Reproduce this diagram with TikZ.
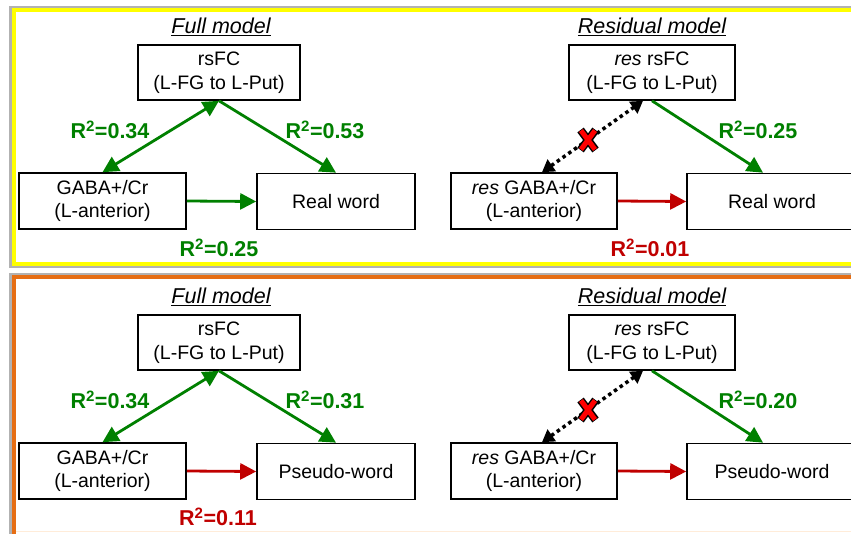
\documentclass[tikz,border=0pt]{standalone}
\usepackage{fontspec}
\setmainfont{Liberation Sans}
\usetikzlibrary{arrows.meta}
\definecolor{mgreen}{RGB}{0,128,0}
\definecolor{mred}{RGB}{192,0,0}
\definecolor{myellow}{RGB}{255,255,0}
\definecolor{morange}{RGB}{230,110,20}
\tikzset{
  box/.style={draw=black, line width=1.6pt, fill=white, align=center, inner sep=2pt,
    font=\fontsize{19.5}{23.5}\selectfont},
  ttl/.style={font=\fontsize{21.5}{24}\selectfont\itshape},
  rlab/.style={font=\fontsize{21.5}{24}\selectfont\bfseries, inner sep=0pt},
  gtip/.style={},
  garr/.style={draw=mgreen, line width=2.8pt, -{Triangle[length=16pt,width=16pt]}},
  gdarr/.style={draw=mgreen, line width=2.8pt, {Triangle[length=16pt,width=16pt]}-{Triangle[length=16pt,width=16pt]}},
  rarr/.style={draw=mred, line width=2.8pt, -{Triangle[length=16pt,width=16pt]}},
  darr/.style={draw=black, line width=3.5pt, dash pattern=on 3.5pt off 3.5pt,
    {Triangle[length=12pt,width=14pt]}-{Triangle[length=12pt,width=14pt]}},
}
\begin{document}
\begin{tikzpicture}[x=1pt,y=-1pt]
\useasboundingbox (0,0) rectangle (851,533);
% panel frames
\draw[gray!60, line width=3pt] (10,7) rectangle (880,266);
\draw[myellow, line width=4pt] (14,10) rectangle (880,264);
\draw[gray!60, line width=3pt] (10,274) rectangle (880,560);
\draw[morange, line width=4pt] (14,277) rectangle (880,560);
\draw[orange!15, line width=1pt] (16,531) -- (851,531);

\foreach \dy/\tw/\sfx in {0/Real word/a, 270/Pseudo-word/b} {
  \begin{scope}[yshift=-\dy pt]
  \node[ttl] (tf\sfx) at (221,27) {\underline{Full model}};
  \node[ttl] (tr\sfx) at (652,27) {\underline{Residual model}};
  % full model
  \node[box, minimum width=162pt, minimum height=55pt] (rs\sfx) at (219,72.5) {rsFC\\(L-FG to L-Put)};
  \node[box, minimum width=167pt, minimum height=56pt] (ga\sfx) at (102.5,201) {GABA+/Cr\\(L-anterior)};
  \node[box, minimum width=158pt, minimum height=56pt] (rw\sfx) at (336,201.5) {\tw};
  % residual model
  \node[box, minimum width=166pt, minimum height=55pt] (rrs\sfx) at (652,72.5) {\textit{res} rsFC\\(L-FG to L-Put)};
  \node[box, minimum width=166pt, minimum height=56pt] (rga\sfx) at (534,201) {\textit{res} GABA+/Cr\\(L-anterior)};
  \node[box, minimum width=170pt, minimum height=56pt] (rrw\sfx) at (772,201.5) {\tw};
  \end{scope}
}

% top connectors
\draw[gdarr] (gaa.north) -- (rsa.south);
\draw[garr] (rsa.south) -- (rwa.north);
\draw[garr] (gaa.east) -- (rwa.west);
\draw[darr] ([xshift=8pt]rgaa.north) -- ([xshift=-9pt]rrsa.south);
\draw[garr] (rrsa.south) -- ([xshift=-9pt]rrwa.north);
\draw[rarr] (rgaa.east) -- (rrwa.west);
% bottom connectors
\draw[gdarr] (gab.north) -- (rsb.south);
\draw[garr] (rsb.south) -- (rwb.north);
\draw[rarr] (gab.east) -- (rwb.west);
\draw[darr] ([xshift=8pt]rgab.north) -- ([xshift=-9pt]rrsb.south);
\draw[garr] (rrsb.south) -- ([xshift=-9pt]rrwb.north);
\draw[rarr] (rgab.east) -- (rrwb.west);

% red X marks
\foreach \yy/\n in {140/xa, 410/xb} {
  \coordinate (\n) at (588,\yy);
  \draw[black, line width=8pt] ([shift={(-7.5,-10)}]\n) -- ([shift={(7.5,10)}]\n);
  \draw[black, line width=8pt] ([shift={(7.5,-10)}]\n) -- ([shift={(-7.5,10)}]\n);
  \draw[red, line width=5pt] ([shift={(-7,-9.5)}]\n) -- ([shift={(7,9.5)}]\n);
  \draw[red, line width=5pt] ([shift={(7,-9.5)}]\n) -- ([shift={(-7,9.5)}]\n);
}

% labels
\node[rlab, text=mgreen] (l1) at (110,130) {R\textsuperscript{2}=0.34};
\node[rlab, text=mgreen] (l2) at (325,130) {R\textsuperscript{2}=0.53};
\node[rlab, text=mgreen] (l3) at (219,248) {R\textsuperscript{2}=0.25};
\node[rlab, text=mgreen] (l4) at (758,130) {R\textsuperscript{2}=0.25};
\node[rlab, text=mred] (l5) at (650,248) {R\textsuperscript{2}=0.01};
\node[rlab, text=mgreen] (l6) at (110,400) {R\textsuperscript{2}=0.34};
\node[rlab, text=mgreen] (l7) at (325,400) {R\textsuperscript{2}=0.31};
\node[rlab, text=mred] (l8) at (218,517) {R\textsuperscript{2}=0.11};
\node[rlab, text=mgreen] (l9) at (758,400) {R\textsuperscript{2}=0.20};
\end{tikzpicture}
\end{document}
